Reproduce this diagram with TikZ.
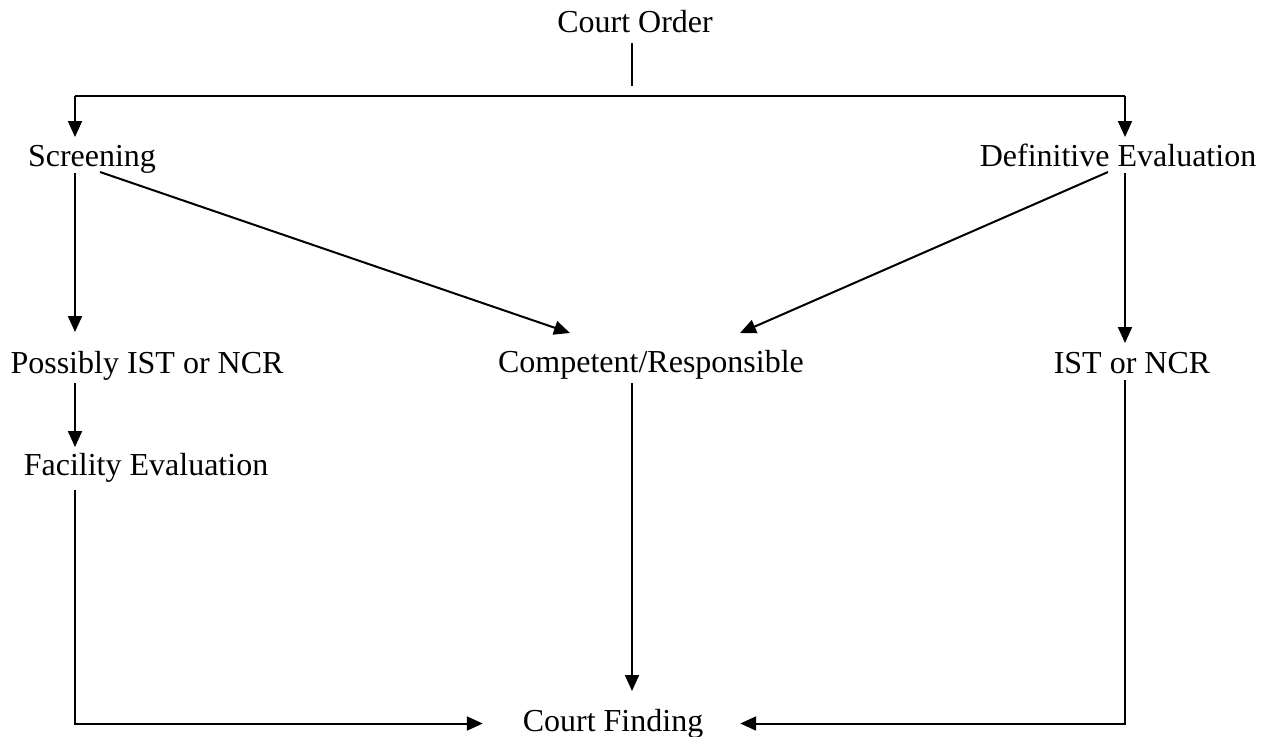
\documentclass[tikz,border=0pt]{standalone}
\usepackage{fontspec}
\setmainfont{Liberation Serif}
\usetikzlibrary{arrows.meta}
\begin{document}
\begin{tikzpicture}[x=1pt,y=-1pt,
  lbl/.style={anchor=base,inner sep=0pt,outer sep=0pt,
    text height=22pt,text depth=7pt,font=\fontsize{32}{38}\selectfont},
  wire/.style={line width=2pt},
  arr/.style={wire,-{Triangle[length=16pt,width=14pt]}}]
\useasboundingbox (0,0) rectangle (1265,736);

% labels
\node[lbl] (co)   at (635,32)  {Court Order};
\node[lbl] (scr)  at (92,166)  {Screening};
\node[lbl] (def)  at (1118,166) {Definitive Evaluation};
\node[lbl] (pos)  at (147,373) {Possibly IST or NCR};
\node[lbl] (comp) at (651,372) {Competent/Responsible};
\node[lbl] (ist)  at (1132,373) {IST or NCR};
\node[lbl] (fac)  at (146,475) {Facility Evaluation};
\node[lbl] (cf)   at (613,731) {Court Finding};

% junction points of the top bar
\coordinate (split) at (632,86);
\coordinate (barL) at (75,96);
\coordinate (barR) at (1125,96);

% court order splits into the two evaluations
\draw[wire,shorten <=4pt] (co.south -| split) -- (split);
\draw[wire] (barL) -- (barR);
\draw[arr,shorten >=7pt] (barL) -- (barL |- scr.north);
\draw[arr,shorten >=7pt] (barR) -- (barR |- def.north);

% screening outcomes
\draw[arr,shorten >=19pt] (scr.south -| barL) -- (pos.north -| barL);
\draw[arr] ([xshift=8pt,yshift=1pt]scr.south) -- ([xshift=-81pt,yshift=17pt]comp.north);

% definitive evaluation outcomes
\draw[arr] ([xshift=-10pt,yshift=1pt]def.south) -- ([xshift=89pt,yshift=17pt]comp.north);
\draw[arr,shorten >=8pt] (def.south -| barR) -- (ist.north -| barR);

% onward to facility evaluation
\draw[arr,shorten <=3pt,shorten >=6pt] (pos.south -| barL) -- (fac.north -| barL);

% all paths end in the court finding
\draw[arr,shorten <=4pt,shorten >=18pt] (comp.south -| split) -- (cf.north -| split);
\draw[arr,shorten <=8pt,shorten >=40pt] (fac.south -| barL) |- (cf.west);
\draw[arr,shorten >=37pt] (ist.south -| barR) |- (cf.east);
\end{tikzpicture}
\end{document}
